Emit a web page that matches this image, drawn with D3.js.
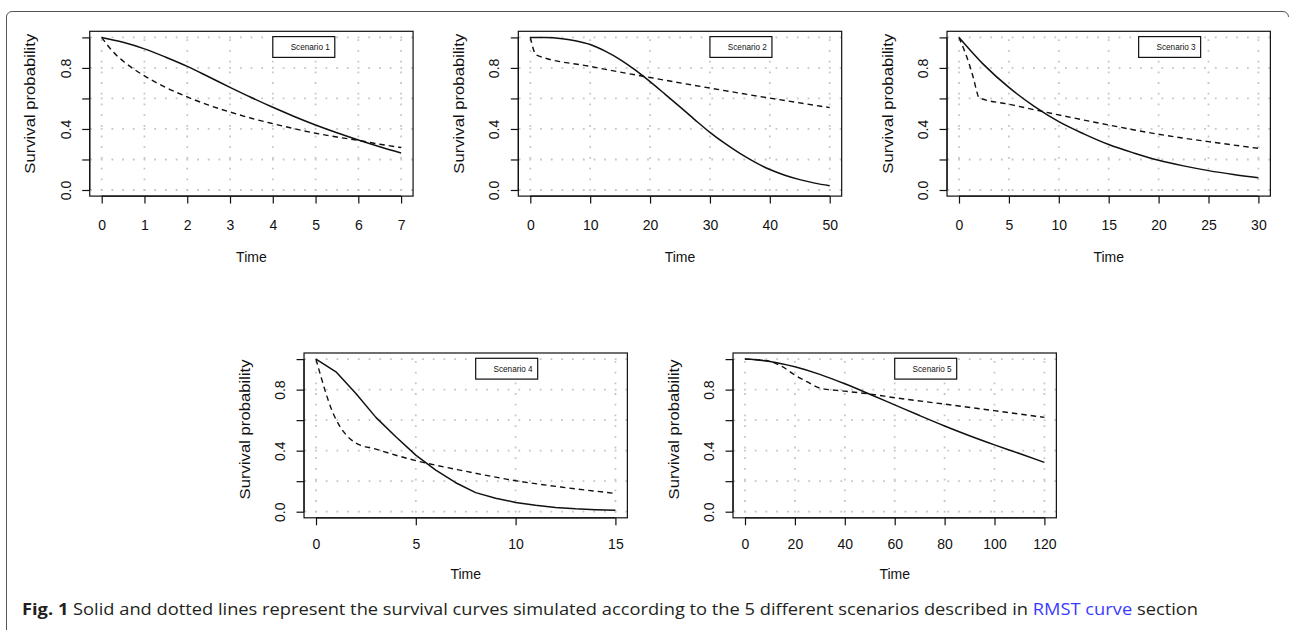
<!DOCTYPE html>
<html>
<head>
<meta charset="utf-8">
<script src="https://cdn.jsdelivr.net/npm/d3@7"></script>
<style>
  html, body { margin: 0; padding: 0; background: #fff; }
  svg { display: block; }
</style>
</head>
<body>
<div id="chart"></div>
<script>
// ---------------- DATA ----------------
const scenarioLabels = ["Scenario 1", "Scenario 2", "Scenario 3", "Scenario 4", "Scenario 5"];
const xMax = [7, 50, 30, 15, 120];
const xTickStep = [1, 10, 5, 5, 20];
const yTicks = [0, 0.2, 0.4, 0.6, 0.8, 1.0];
const yTickLabels = ["0.0", "", "0.4", "", "0.8", ""];
const legendX = [4, 30, 18, 8, 60];
const xAxisTitle = "Time";
const yAxisTitle = "Survival probability";

// Scenario 1
const s1SolidT = [0, 0.5, 1, 1.5, 2, 2.5, 3, 3.5, 4, 4.5, 5, 5.5, 6, 6.5, 7];
const s1Solid  = [1.0, 0.968, 0.925, 0.87, 0.81, 0.742, 0.673, 0.606, 0.542, 0.482, 0.426, 0.375, 0.328, 0.284, 0.243];
const s1DashT  = [0, 0.25, 0.5, 1, 1.5, 2, 2.5, 3, 3.5, 4, 4.5, 5, 5.5, 6, 6.5, 7];
const s1Dash   = [1.0, 0.91, 0.845, 0.748, 0.672, 0.61, 0.556, 0.511, 0.47, 0.435, 0.402, 0.372, 0.347, 0.325, 0.3, 0.278];
// Scenario 2
const s2SolidT = [0, 2.5, 5, 7.5, 10, 12.5, 15, 17.5, 20, 22.5, 25, 27.5, 30, 32.5, 35, 37.5, 40, 42.5, 45, 47.5, 50];
const s2Solid  = [1.0, 0.999, 0.993, 0.978, 0.953, 0.91, 0.855, 0.787, 0.71, 0.628, 0.545, 0.46, 0.378, 0.305, 0.24, 0.183, 0.134, 0.097, 0.068, 0.045, 0.028];
const s2DashT  = [0, 1, 10, 20, 30, 40, 50];
const s2Dash   = [1.0, 0.885, 0.81, 0.737, 0.668, 0.602, 0.54];
// Scenario 3
const s3SolidT = [0, 2.5, 5, 7.5, 10, 12.5, 15, 17.5, 20, 22.5, 25, 27.5, 30];
const s3Solid  = [1.0, 0.82, 0.672, 0.55, 0.448, 0.368, 0.298, 0.243, 0.195, 0.158, 0.127, 0.102, 0.081];
const s3DashT  = [0, 0.5, 1, 1.5, 1.8, 2, 5, 10, 15, 20, 25, 30];
const s3Dash   = [1.0, 0.92, 0.83, 0.72, 0.64, 0.605, 0.562, 0.492, 0.426, 0.365, 0.317, 0.273];
// Scenario 4
const s4SolidT = [0, 1, 2, 3, 4, 5, 6, 7, 8, 9, 10, 11, 12, 13, 14, 15];
const s4Solid  = [1.0, 0.917, 0.775, 0.618, 0.491, 0.371, 0.273, 0.19, 0.125, 0.088, 0.061, 0.042, 0.028, 0.019, 0.013, 0.009];
const s4DashT  = [0, 0.25, 0.5, 0.75, 1, 1.5, 2, 3, 4, 5, 7.5, 10, 12.5, 15];
const s4Dash   = [1.0, 0.884, 0.775, 0.68, 0.605, 0.505, 0.45, 0.41, 0.37, 0.335, 0.265, 0.203, 0.158, 0.12];
// Scenario 5
const s5SolidT = [0, 10, 20, 30, 40, 50, 60, 70, 80, 90, 100, 110, 120];
const s5Solid  = [1.0, 0.985, 0.95, 0.9, 0.838, 0.77, 0.7, 0.63, 0.562, 0.498, 0.438, 0.381, 0.323];
const s5DashT  = [0, 5, 10, 15, 20, 25, 30, 40, 50, 60, 80, 100, 120];
const s5Dash   = [1.0, 0.995, 0.985, 0.95, 0.895, 0.85, 0.81, 0.79, 0.771, 0.747, 0.705, 0.662, 0.618];

const captionBold = "Fig. 1";
const captionText = " Solid and dotted lines represent the survival curves simulated according to the 5 different scenarios described in ";
const captionLink = "RMST curve";
const captionEnd = " section";

// ---------------- LAYOUT ----------------
const W = 1289, H = 630;
const svg = d3.select("#chart").append("svg").attr("width", W).attr("height", H);

const solidSeries = [[s1SolidT, s1Solid], [s2SolidT, s2Solid], [s3SolidT, s3Solid], [s4SolidT, s4Solid], [s5SolidT, s5Solid]];
const dashSeries  = [[s1DashT, s1Dash], [s2DashT, s2Dash], [s3DashT, s3Dash], [s4DashT, s4Dash], [s5DashT, s5Dash]];
const solidCurve = [d3.curveMonotoneX, d3.curveMonotoneX, d3.curveMonotoneX, d3.curveLinear, d3.curveMonotoneX];

// pixel where t = 0 and row baselines
const panelX0 = [101.7, 530.3, 959, 316, 745];
const dataW = 299.4;
const rowY0 = [190, 190, 190, 511.7, 511.7];
const dataH = 152.6;
const tickLabOff = [34, 34, 34, 31, 31];
const titleOff = [65.6, 65.6, 65.6, 61, 61];
const ylabShift = [-10, -10, -10, -6, -6];

const fontAxis = "'Liberation Sans', Arial, Helvetica, sans-serif";

// outer frame
svg.append("path")
  .attr("d", "M6.5,630 V17 A5.5,5.5 0 0 1 12,11.5 H1283 A5.5,5.5 0 0 1 1288.5,17")
  .attr("fill", "none").attr("stroke", "#555").attr("stroke-width", 1);

for (let i = 0; i < 5; i++) {
  const xm = xMax[i];
  const x = d3.scaleLinear().domain([0, xm]).range([panelX0[i], panelX0[i] + dataW]);
  const y = d3.scaleLinear().domain([0, 1]).range([rowY0[i], rowY0[i] - dataH]);
  const bx0 = x(-0.04 * xm), bx1 = x(1.04 * xm);
  const by0 = y(-0.04), by1 = y(1.04);
  const g = svg.append("g");
  const xt = d3.range(0, xm + 1e-9, xTickStep[i]);

  // grid
  const grid = g.append("g").attr("stroke", "#c6c6c6").attr("stroke-width", 1.8)
    .attr("stroke-dasharray", "1.8,8.9").attr("fill", "none");
  xt.forEach(v => {
    grid.append("line").attr("x1", x(v)).attr("x2", x(v)).attr("y1", by0).attr("y2", by1)
      .attr("stroke-dashoffset", -((by0 - y(0)) % 10.7) + 0.9);
  });
  yTicks.forEach(v => {
    grid.append("line").attr("y1", y(v)).attr("y2", y(v)).attr("x1", bx0).attr("x2", bx1)
      .attr("stroke-dashoffset", -((x(0) - bx0) % 10.7) + 0.9);
  });

  // curves
  const lineS = d3.line().x(d => x(d[0])).y(d => y(d[1])).curve(solidCurve[i]);
  const lineD = d3.line().x(d => x(d[0])).y(d => y(d[1])).curve(d3.curveMonotoneX);
  const sd = solidSeries[i][0].map((t, k) => [t, solidSeries[i][1][k]]);
  const dd = dashSeries[i][0].map((t, k) => [t, dashSeries[i][1][k]]);
  g.append("path").attr("d", lineD(dd)).attr("fill", "none").attr("stroke", "#111")
    .attr("stroke-width", 1.4).attr("stroke-dasharray", "5.5,4");
  g.append("path").attr("d", lineS(sd)).attr("fill", "none").attr("stroke", "#111")
    .attr("stroke-width", 1.5).attr("stroke-linejoin", "round");

  // box
  g.append("rect").attr("x", bx0).attr("y", by1).attr("width", bx1 - bx0).attr("height", by0 - by1)
    .attr("fill", "none").attr("stroke", "#111").attr("stroke-width", 1.2);

  // x axis
  const xAxis = d3.axisBottom(x).tickValues(xt).tickSize(7.5).tickSizeOuter(0).tickPadding(0).tickFormat(d3.format("d"));
  const xg = g.append("g").attr("transform", `translate(0,${by0})`).call(xAxis);
  xg.select(".domain").attr("d", `M${x(0)},0H${x(xm)}`).attr("stroke", "#111").attr("stroke-width", 1.2);
  xg.selectAll(".tick line").attr("stroke", "#111").attr("stroke-width", 1.2);
  xg.selectAll(".tick text").attr("y", tickLabOff[i]).attr("dy", null)
    .attr("font-family", fontAxis).attr("font-size", 14).attr("fill", "#111");

  // y axis
  const yAxis = d3.axisLeft(y).tickValues(yTicks).tickSize(7.5).tickSizeOuter(0)
    .tickFormat((d, k) => yTickLabels[k]);
  const yg = g.append("g").attr("transform", `translate(${bx0},0)`).call(yAxis);
  yg.select(".domain").attr("d", `M0,${y(0)}V${y(1)}`).attr("stroke", "#111").attr("stroke-width", 1.2);
  yg.selectAll(".tick line").attr("stroke", "#111").attr("stroke-width", 1.2);
  yg.selectAll(".tick text").attr("x", null).attr("dy", null)
    .attr("transform", "translate(-19,0) rotate(-90)").attr("text-anchor", "middle")
    .attr("font-family", fontAxis).attr("font-size", 14).attr("fill", "#111");

  // titles
  g.append("text").attr("x", (x(0) + x(xm)) / 2).attr("y", by0 + titleOff[i])
    .attr("text-anchor", "middle").attr("font-family", fontAxis).attr("font-size", 14)
    .attr("fill", "#111").text(xAxisTitle);
  g.append("text")
    .attr("transform", `translate(${bx0 - 54.5},${(by0 + by1) / 2 + ylabShift[i]}) rotate(-90)`)
    .attr("text-anchor", "middle").attr("font-family", fontAxis).attr("font-size", 14)
    .attr("textLength", 140).attr("lengthAdjust", "spacingAndGlyphs")
    .attr("fill", "#111").text(yAxisTitle);

  // legend
  const lx = x(legendX[i]), ly = y(1.0) - 0.8;
  g.append("rect").attr("x", lx).attr("y", ly).attr("width", 62).attr("height", 20.8)
    .attr("fill", "#fff").attr("stroke", "#111").attr("stroke-width", 1.2);
  g.append("text").attr("x", lx + 57).attr("y", ly + 13.5).attr("text-anchor", "end")
    .attr("font-family", fontAxis).attr("font-size", 8.2).attr("fill", "#111").text(scenarioLabels[i]);
}

// caption
const cap = svg.append("text").attr("x", 22).attr("y", 615)
  .attr("font-family", "'Open Sans', 'Noto Sans', sans-serif").attr("font-size", 16.5)
  .attr("fill", "#231f20").attr("textLength", 1176).attr("lengthAdjust", "spacingAndGlyphs");
cap.append("tspan").attr("font-weight", "bold").text(captionBold);
cap.append("tspan").text(captionText);
cap.append("tspan").attr("fill", "#3b3bff").text(captionLink);
cap.append("tspan").text(captionEnd);
</script>
</body>
</html>
